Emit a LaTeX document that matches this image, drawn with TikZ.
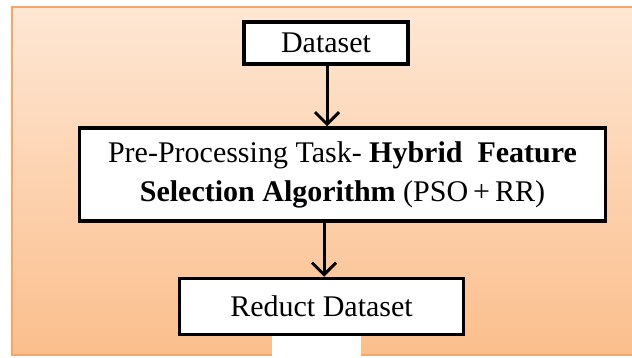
\documentclass[tikz,border=0pt]{standalone}
\usepackage{fontspec}
\setmainfont{Liberation Serif}
\usetikzlibrary{arrows.meta,shadows}
\definecolor{bgtop}{RGB}{254,231,212}
\definecolor{bgbot}{RGB}{251,190,140}
\definecolor{bgline}{RGB}{246,166,106}
\tikzset{
  flowbox/.style={draw=black, line width=3.5pt, fill=white, inner sep=0pt,
    font=\fontsize{30}{39}\selectfont,
    drop shadow={shadow xshift=1pt, shadow yshift=-1pt, opacity=0.4}},
  flowarrow/.style={line width=3pt, -{Straight Barb[length=12pt,width=24pt]}},
}
\begin{document}
\begin{tikzpicture}[x=1pt,y=-1pt]
\useasboundingbox (0,0) rectangle (632,358);
\fill[top color=bgtop, bottom color=bgbot] (12,7) rectangle (636,355);
\draw[bgline, line width=2pt] (636,7) -- (12,7) -- (12,355) -- (636,355);
\fill[white] (272,335) rectangle (361,359);
\node[flowbox, minimum width=164pt, minimum height=42pt] (ds) at (326,43)
  {Dataset};
\node[flowbox, minimum width=526pt, minimum height=93pt, align=center] (pre) at (342.5,174.5)
  {Pre-Processing Task-\textbf{ Hybrid\ \ Feature}\\
   \textbf{Selection Algorithm} (PSO\,+\,RR)};
\node[flowbox, minimum width=284pt, minimum height=56pt] (red) at (321.5,306.5)
  {Reduct Dataset};
\draw[flowarrow] (ds.south -| 327,0) -- (pre.north -| 327,0);
\draw[flowarrow] (pre.south -| 324,0) -- (red.north -| 324,0);
\end{tikzpicture}
\end{document}
